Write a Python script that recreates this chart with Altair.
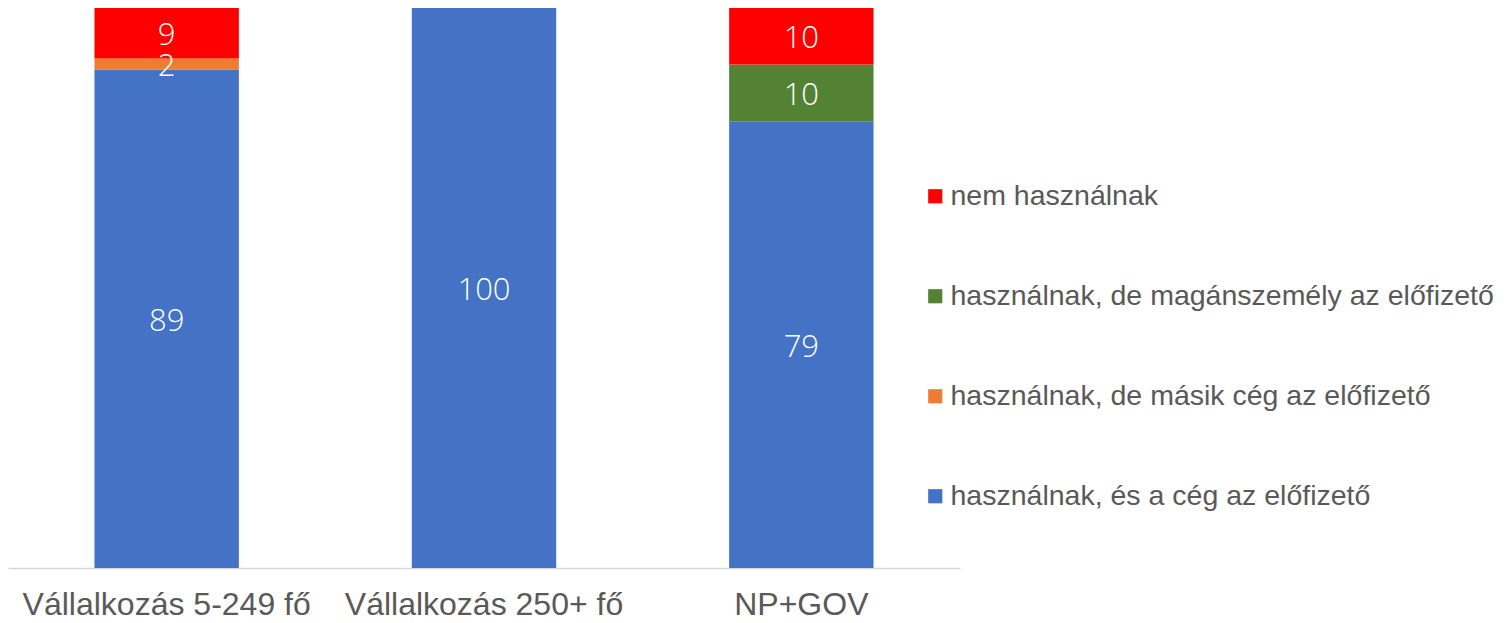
import altair as alt
import pandas as pd

categories = ["Vállalkozás 5-249 fő", "Vállalkozás 250+ fő", "NP+GOV"]
series = [
    "használnak, és a cég az előfizető",
    "használnak, de másik cég az előfizető",
    "használnak, de magánszemély az előfizető",
    "nem használnak",
]
colors = ["#4472C4", "#ED7D31", "#548235", "#FF0000"]
values_ceg = [89, 100, 79]
values_masik = [2, 0, 0]
values_magan = [0, 0, 10]
values_nem = [9, 0, 10]

rows = []
for i, c in enumerate(categories):
    for k, (s, vals) in enumerate(zip(series, [values_ceg, values_masik, values_magan, values_nem])):
        if vals[i] > 0:
            rows.append({"cat": c, "series": s, "value": vals[i], "ord": k})
df = pd.DataFrame(rows)

legend_domain = series[::-1]
legend_range = colors[::-1]

base = alt.Chart(df).transform_stack(
    stack="value", groupby=["cat"], as_=["y0", "y1"], offset="normalize",
    sort=[alt.SortField("ord", order="ascending")]
).transform_calculate(ymid="(datum.y0 + datum.y1) / 2")

xenc = alt.X("cat:N", sort=categories, title=None,
             scale=alt.Scale(paddingInner=0.545, paddingOuter=0.2725),
             axis=alt.Axis(labelAngle=0, labelFontSize=32, labelColor="#595959",
                           labelFont="Liberation Sans", ticks=False, labelPadding=21,
                           labelLimit=400,
                           domainColor="#D9D9D9", domainWidth=1.5))

bars = base.mark_bar().encode(
    x=xenc,
    y=alt.Y("y0:Q", scale=alt.Scale(domain=[0, 1]), axis=None),
    y2="y1:Q",
    color=alt.Color("series:N",
                    scale=alt.Scale(domain=legend_domain, range=legend_range),
                    legend=alt.Legend(title=None, orient="none", legendX=913, legendY=174,
                                      symbolType="square", symbolSize=200,
                                      symbolStrokeWidth=0, labelFontSize=28.5,
                                      labelFont="Liberation Sans", labelColor="#595959",
                                      labelOffset=1, rowPadding=71, labelLimit=700)),
)

text = base.mark_text(color="white", fontSize=31, font="Open Sans", fontWeight=300,
                      baseline="middle", dy=3).encode(
    x=alt.X("cat:N", sort=categories),
    y=alt.Y("ymid:Q", scale=alt.Scale(domain=[0, 1])),
    text="value:Q",
)

chart = alt.layer(bars, text).properties(width=952, height=560, padding=0).configure_view(
    stroke=None
)

chart.save("out.html", embed_options={"renderer": "svg", "actions": False})
